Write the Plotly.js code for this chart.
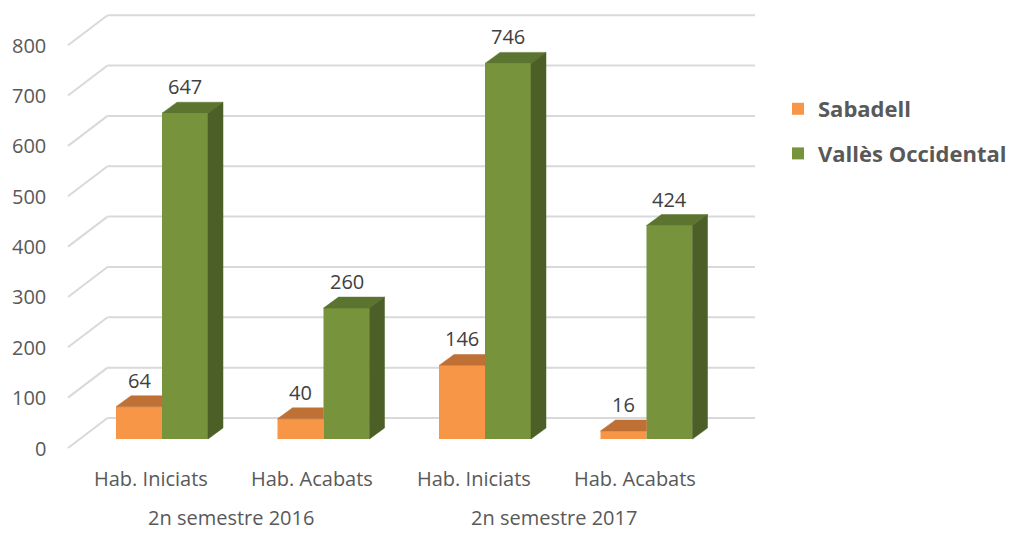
<!DOCTYPE html>
<html>
<head>
<meta charset="utf-8">
<script src="https://cdn.plot.ly/plotly-3.0.1.min.js"></script>
<style>
  html, body { margin: 0; padding: 0; background: #ffffff; }
  #chart { width: 1009px; height: 533px; }
</style>
</head>
<body>
<div id="chart"></div>
<script>
// ---------------- data ----------------
const categories = ['Hab. Iniciats', 'Hab. Acabats', 'Hab. Iniciats', 'Hab. Acabats'];
const periods = ['2n semestre 2016', '2n semestre 2017'];
const seriesNames = ['Sabadell', 'Vallès Occidental'];
const sabadell = [64, 40, 146, 16];
const valles = [647, 260, 746, 424];
const yTicks = [0, 100, 200, 300, 400, 500, 600, 700, 800];

// ---------------- layout constants (pixels) ----------------
const W = 1009, H = 533;
const CAT0_PX = 162;      // pixel x of first category centre (bar plane)
const CAT_PX = 161.5;     // pixels per category
const ZERO_PX = 439;      // pixel y of value 0 on bar plane
const UNIT_PX = 0.5035;   // pixels per value unit
const BAR_PX = 46;        // bar width px
const DEPTH_X_PX = 15, DEPTH_Y_PX = 11;   // bar depth
const BACK_X_PX = 28, BACK_Y_PX = 21;     // back wall offset from bar plane
const FRONT_X_PX = -11.5, FRONT_Y_PX = -9; // front edge offset
const LEFT_EDGE_PX = 68;
const WALL_RIGHT_PX = 755;

const toX = px => (px - CAT0_PX) / CAT_PX;
const dX = px => px / CAT_PX;
const dY = px => px / UNIT_PX;

const BW = dX(BAR_PX);
const DX = dX(DEPTH_X_PX), DY = dY(DEPTH_Y_PX);

const colors = {
  orange: { front: '#F79646', top: '#BF7034', side: '#A8622C' },
  green:  { front: '#77933C', top: '#5B7530', side: '#4B5F26' }
};

const xIdx = categories.map((_, i) => i);

// ---------------- traces ----------------
const traces = [];
traces.push({
  type: 'bar', name: seriesNames[0], legendgroup: 'a',
  x: xIdx, y: sabadell, width: BW, offset: -BW,
  marker: { color: colors.orange.front, line: { width: 0 } },
  hoverinfo: 'skip'
});
traces.push({
  type: 'bar', name: seriesNames[1], legendgroup: 'b',
  x: xIdx, y: valles, width: BW, offset: 0,
  marker: { color: colors.green.front, line: { width: 0 } },
  hoverinfo: 'skip'
});

function poly(xs, ys, color) {
  traces.push({
    type: 'scatter', mode: 'lines', fill: 'toself',
    x: xs.concat([xs[0]]), y: ys.concat([ys[0]]),
    fillcolor: color, line: { color: color, width: 0.5 },
    showlegend: false, hoverinfo: 'skip'
  });
}

// orange tops (right part hidden behind green front face)
xIdx.forEach(i => {
  const x0 = i - BW, x1 = i, v = sabadell[i];
  poly([x0, x0 + DX, x1, x1], [v, v + DY, v + DY, v], colors.orange.top);
});
// green tops and sides
xIdx.forEach(i => {
  const x0 = i, x1 = i + BW, v = valles[i];
  poly([x0, x0 + DX, x1 + DX, x1], [v, v + DY, v + DY, v], colors.green.top);
  poly([x1, x1, x1 + DX, x1 + DX], [0, v, v + DY, DY], colors.green.side);
});

// ---------------- gridlines (walls) ----------------
const shapes = [];
const gridColor = '#d9d9d9';
const leftBarPlanePx = LEFT_EDGE_PX - FRONT_X_PX;
yTicks.forEach(v => {
  const fx = toX(leftBarPlanePx + FRONT_X_PX), fy = v + dY(FRONT_Y_PX);
  const bx = toX(leftBarPlanePx + BACK_X_PX), by = v + dY(BACK_Y_PX);
  const rx = toX(WALL_RIGHT_PX);
  shapes.push({ type: 'line', layer: 'below', xref: 'x', yref: 'y',
    x0: fx, y0: fy, x1: bx, y1: by, line: { color: gridColor, width: 2 } });
  shapes.push({ type: 'line', layer: 'below', xref: 'x', yref: 'y',
    x0: bx, y0: by, x1: rx, y1: by, line: { color: gridColor, width: 2 } });
});

// ---------------- annotations ----------------
const annotations = [];
const baseFont = { family: 'Open Sans, sans-serif', size: 20, color: '#595959' };
// y tick labels
yTicks.forEach(v => {
  annotations.push({
    x: toX(48), y: v + dY(FRONT_Y_PX), xref: 'x', yref: 'y',
    xanchor: 'right', yanchor: 'middle', showarrow: false,
    text: String(v), font: baseFont
  });
});
// data labels
function dataLabel(xc, v) {
  annotations.push({
    x: xc, y: v + DY, xref: 'x', yref: 'y',
    xanchor: 'center', yanchor: 'bottom', showarrow: false,
    text: String(v), font: { family: 'Open Sans, sans-serif', size: 20, color: '#404040' }
  });
}
xIdx.forEach(i => {
  dataLabel(i - BW / 2, sabadell[i]);
  dataLabel(i + BW / 2, valles[i]);
});
// category labels
xIdx.forEach(i => {
  annotations.push({
    x: i + dX(FRONT_X_PX), y: 1 - 478 / H, xref: 'x', yref: 'paper',
    xanchor: 'center', yanchor: 'middle', showarrow: false,
    text: categories[i], font: baseFont
  });
});
// period labels
periods.forEach((p, g) => {
  annotations.push({
    x: (2 * g + 0.5) + dX(FRONT_X_PX), y: 0, xref: 'x', yref: 'paper',
    xanchor: 'center', yanchor: 'bottom', showarrow: false,
    text: p, font: baseFont
  });
});

const layout = {
  width: W, height: H,
  margin: { l: 0, r: 0, t: 0, b: 0, pad: 0, autoexpand: false },
  paper_bgcolor: '#ffffff', plot_bgcolor: '#ffffff',
  barmode: 'overlay',
  xaxis: { range: [toX(0), toX(W)], visible: false, fixedrange: true },
  yaxis: { range: [(ZERO_PX - H) / UNIT_PX, ZERO_PX / UNIT_PX], visible: false, fixedrange: true },
  showlegend: true,
  legend: {
    x: 778 / W, xanchor: 'left', y: 1 - 88 / H, yanchor: 'top',
    bgcolor: 'rgba(0,0,0,0)', tracegroupgap: 13,
    font: { family: 'Open Sans, sans-serif', size: 22, color: '#595959', weight: 'bold' }
  },
  shapes: shapes,
  annotations: annotations
};

Plotly.newPlot('chart', traces, layout, { displayModeBar: false, staticPlot: true });
</script>
</body>
</html>
